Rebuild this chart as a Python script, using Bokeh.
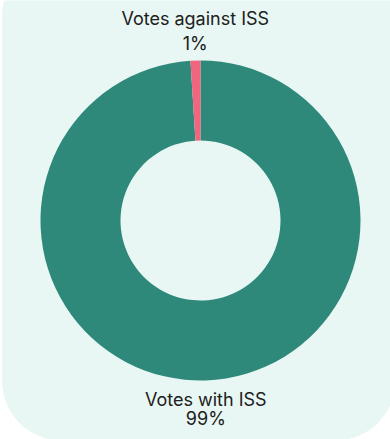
import numpy as np
from bokeh.plotting import figure
from bokeh.models import Range1d, BoxAnnotation, ColumnDataSource
from bokeh.core.properties import value
from bokeh.embed import file_html
from bokeh.resources import INLINE

# ---- data ----
labels = ["Votes with ISS", "Votes against ISS"]
values = [99, 1]
pct_labels = ["99%", "1%"]
colors = ["#2e897a", "#f2657f"]

W, H = 390, 439
CX, CY = 200, H - 220
R_OUT, R_IN = 160, 80

vals = np.array(values, dtype=float)
frac = vals / vals.sum()
cum = np.cumsum(frac)
cum_prev = cum - frac
start = np.pi / 2 - cum * 2 * np.pi
end = np.pi / 2 - cum_prev * 2 * np.pi
mid = (start + end) / 2

src = ColumnDataSource(dict(start=start, end=end, color=colors))

p = figure(width=W, height=H, output_backend="svg", toolbar_location=None,
           x_range=Range1d(0, W), y_range=Range1d(0, H), min_border=0,
           background_fill_color="white", border_fill_color="white",
           outline_line_color=None)
p.axis.visible = False
p.grid.visible = False

# card background
p.add_layout(BoxAnnotation(left=1.5, right=W + 5, bottom=-1, top=H + 45,
                           fill_color="#e8f7f3", fill_alpha=1, line_color=None,
                           border_radius=60, level="underlay"))

p.annular_wedge(x=CX, y=CY, inner_radius=R_IN, outer_radius=R_OUT,
                inner_radius_units="screen", outer_radius_units="screen",
                start_angle="start", end_angle="end", direction="anticlock",
                fill_color="color", line_color=None, source=src)

font = value("Inter")
fs = "18px"
tc = "#202020"
for i in range(len(values)):
    above = np.sin(mid[i]) > 0
    gap = 7 if above else 9
    lx = CX + (R_OUT + gap) * np.cos(mid[i])
    ly = CY + (R_OUT + gap) * np.sin(mid[i])
    if above:
        p.text(x=[lx], y=[ly], text=[pct_labels[i]], text_align="center",
               text_baseline="bottom", text_font=font, text_font_size=fs,
               text_color=tc)
        p.text(x=[lx], y=[ly], text=[labels[i]], text_align="center",
               text_baseline="bottom", y_offset=-25, text_font=font,
               text_font_size=fs, text_color=tc)
    else:
        p.text(x=[lx], y=[ly], text=[labels[i]], text_align="center",
               text_baseline="top", text_font=font, text_font_size=fs,
               text_color=tc)
        p.text(x=[lx], y=[ly], text=[pct_labels[i]], text_align="center",
               text_baseline="top", y_offset=19, text_font=font,
               text_font_size=fs, text_color=tc)

open("out.html", "w").write(file_html(p, INLINE))
